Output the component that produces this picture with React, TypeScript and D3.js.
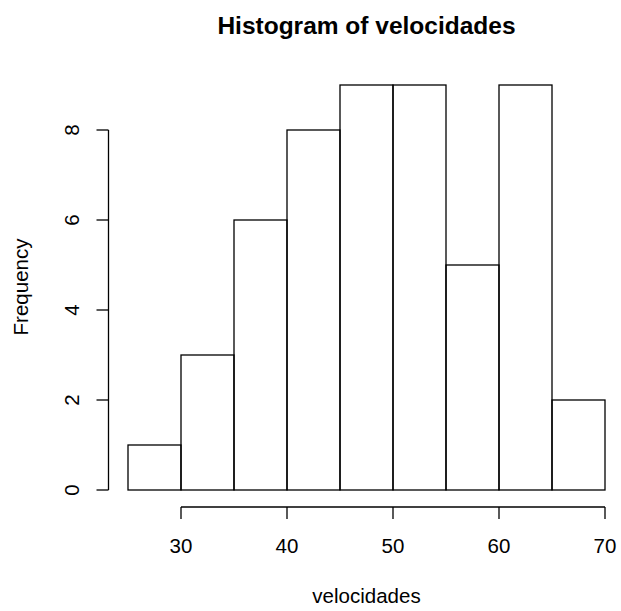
import React from "react";
import * as d3 from "d3";

const binStarts = [25, 30, 35, 40, 45, 50, 55, 60, 65];
const binWidth = 5;
const counts = [1, 3, 6, 8, 9, 9, 5, 9, 2];
const xTicks = [30, 40, 50, 60, 70];
const yTicks = [0, 2, 4, 6, 8];

const W = 621;
const H = 611;
const font = "'Liberation Sans', Arial, Helvetica, sans-serif";

export default function App() {
  const x = d3.scaleLinear().domain([25, 70]).range([128, 605]);
  const y = d3.scaleLinear().domain([0, 8]).range([490, 130]);
  const axisY = 507;
  const axisX = 108.5;
  const tick = 12;
  const fs = 20.5;

  return (
    <svg width={W} height={H} style={{ position: "absolute", left: 0, top: 0, background: "#fff" }}>
      <rect width={W} height={H} fill="#fff" />
      <text x={366.5} y={34} textAnchor="middle" fontFamily={font} fontWeight="bold" fontSize={24.5}>
        Histogram of velocidades
      </text>
      {binStarts.map((b, i) => (
        <rect
          key={b}
          x={x(b)}
          y={y(counts[i])}
          width={x(b + binWidth) - x(b)}
          height={y(0) - y(counts[i])}
          fill="none"
          stroke="#000"
          strokeWidth={1.3}
        />
      ))}
      {/* x axis */}
      <line x1={x(xTicks[0])} x2={x(xTicks[xTicks.length - 1])} y1={axisY} y2={axisY} stroke="#000" strokeWidth={1.3} />
      {xTicks.map((t) => (
        <g key={t}>
          <line x1={x(t)} x2={x(t)} y1={axisY} y2={axisY + tick} stroke="#000" strokeWidth={1.3} />
          <text x={x(t)} y={553} textAnchor="middle" fontFamily={font} fontSize={fs}>
            {t}
          </text>
        </g>
      ))}
      {/* y axis */}
      <line x1={axisX} x2={axisX} y1={y(yTicks[0])} y2={y(yTicks[yTicks.length - 1])} stroke="#000" strokeWidth={1.3} />
      {yTicks.map((t) => (
        <g key={t}>
          <line x1={axisX - tick} x2={axisX} y1={y(t)} y2={y(t)} stroke="#000" strokeWidth={1.3} />
          <text
            transform={`translate(79,${y(t)}) rotate(-90)`}
            textAnchor="middle"
            fontFamily={font}
            fontSize={fs}
          >
            {t}
          </text>
        </g>
      ))}
      <text x={366.5} y={603} textAnchor="middle" fontFamily={font} fontSize={fs}>
        velocidades
      </text>
      <text transform={`translate(28,287) rotate(-90)`} textAnchor="middle" fontFamily={font} fontSize={fs}>
        Frequency
      </text>
    </svg>
  );
}
